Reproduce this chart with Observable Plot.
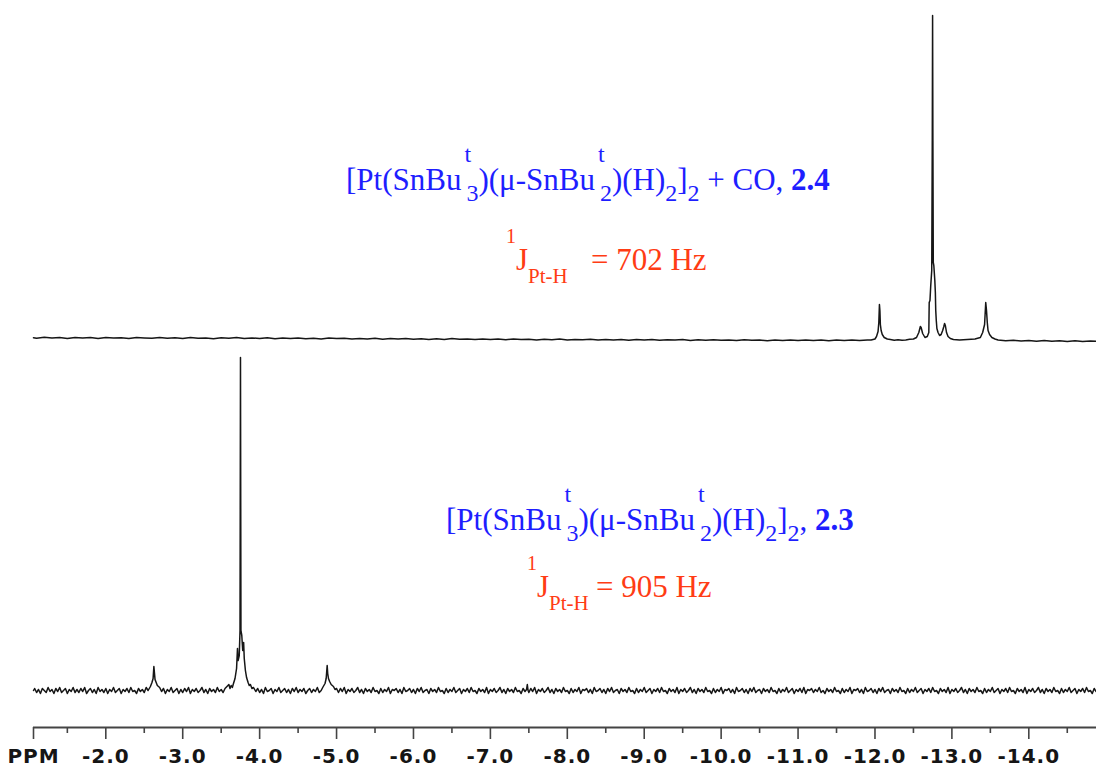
<!DOCTYPE html>
<html>
<head>
<meta charset="utf-8">
<script src="https://cdn.jsdelivr.net/npm/d3@7"></script>
<script src="https://cdn.jsdelivr.net/npm/@observablehq/plot@0.6"></script>
<style>
  html, body { margin: 0; padding: 0; background: #ffffff; }
  #chart svg { display: block; }
  #chart svg g[aria-label="x-axis tick label"] { letter-spacing: 1px; }
</style>
</head>
<body>
<div id="chart"></div>
<script>
// ---------------- DATA ----------------
const axisLabel = "PPM";
const xStart = -1.06;
const xEnd = -14.88;
const majorTicks = [-2, -3, -4, -5, -6, -7, -8, -9, -10, -11, -12, -13, -14];
const minorTicks = [-1.5, -2.5, -3.5, -4.5, -5.5, -6.5, -7.5, -8.5, -9.5, -10.5, -11.5, -12.5, -13.5, -14.5];

// upper trace: [Pt(SnBut3)(μ-SnBut2)(H)2]2 + CO, 2.4   [ppm, intensity]
const upperSpectrum = [
  [-1.06,2.8],[-1.1,2.2],[-1.2,3.2],[-1.3,2.4],[-1.4,3.0],[-1.5,2.0],[-1.6,3.1],[-1.7,2.5],[-1.8,2.9],[-1.9,2.1],
  [-2.0,3.0],[-2.1,2.4],[-2.2,2.8],[-2.3,1.9],[-2.4,3.1],[-2.5,2.6],[-2.6,2.2],[-2.7,3.0],[-2.8,2.3],[-2.9,2.7],
  [-3.0,2.0],[-3.1,2.9],[-3.2,2.3],[-3.3,2.6],[-3.4,1.8],[-3.5,2.7],[-3.6,2.2],[-3.7,2.9],[-3.8,1.9],[-3.9,2.5],
  [-4.0,2.1],[-4.1,2.8],[-4.2,1.7],[-4.3,2.4],[-4.4,2.0],[-4.5,2.6],[-4.6,1.8],[-4.7,2.3],[-4.8,1.6],[-4.9,2.5],
  [-5.0,1.9],[-5.1,2.2],[-5.2,1.4],[-5.3,2.1],[-5.4,1.6],[-5.5,2.3],[-5.6,1.2],[-5.7,1.9],[-5.8,1.5],[-5.9,2.0],
  [-6.0,1.3],[-6.1,1.8],[-6.2,1.1],[-6.3,1.7],[-6.4,1.0],[-6.5,1.9],[-6.6,1.2],[-6.7,1.5],[-6.8,0.9],[-6.9,1.6],
  [-7.0,1.1],[-7.1,1.4],[-7.2,0.7],[-7.3,1.5],[-7.4,0.9],[-7.5,1.3],[-7.6,0.6],[-7.7,1.2],[-7.8,0.8],[-7.9,1.4],
  [-8.0,0.5],[-8.1,1.1],[-8.2,0.7],[-8.3,1.2],[-8.4,0.4],[-8.5,1.0],[-8.6,0.6],[-8.7,1.1],[-8.8,0.3],[-8.9,0.9],
  [-9.0,0.5],[-9.1,1.0],[-9.2,0.2],[-9.3,0.8],[-9.4,0.4],[-9.5,0.9],[-9.6,0.1],[-9.7,0.7],[-9.8,0.3],[-9.9,0.8],
  [-10.0,0.2],[-10.1,0.6],[-10.2,-0.1],[-10.3,0.7],[-10.4,0.2],[-10.5,0.5],[-10.6,-0.2],[-10.7,0.6],[-10.8,0.1],[-10.9,0.5],
  [-11.0,-0.1],[-11.1,0.6],[-11.2,0.0],[-11.3,0.4],[-11.4,-0.2],[-11.5,0.5],[-11.6,0.1],[-11.7,0.4],[-11.8,-0.1],[-11.9,0.5],
  [-11.95,0.6],[-12.0,1.5],[-12.02,4],[-12.04,9],[-12.05,18],[-12.058,36],[-12.064,30],[-12.07,16],[-12.08,10],[-12.095,6],
  [-12.12,3],[-12.16,1.5],[-12.2,1],[-12.25,0.3],[-12.3,0.8],[-12.35,0.2],[-12.4,0.6],[-12.45,1.2],[-12.5,1.5],[-12.54,3],
  [-12.57,8],[-12.59,14],[-12.6,13],[-12.62,7],[-12.65,3],[-12.68,4],[-12.7,8],[-12.705,38],[-12.715,40],[-12.725,55],
  [-12.738,70],[-12.745,200],[-12.749,325],[-12.753,200],[-12.758,78],[-12.765,75],[-12.778,60],[-12.785,48],[-12.79,30],[-12.797,20],
  [-12.805,12],[-12.82,8],[-12.84,5],[-12.86,6],[-12.88,10],[-12.895,14],[-12.905,17],[-12.915,15],[-12.93,8],[-12.95,4],
  [-12.98,2],[-13.02,1],[-13.1,0.5],[-13.2,1],[-13.3,1.5],[-13.37,3],[-13.4,8],[-13.425,16],[-13.44,38],[-13.45,30],
  [-13.46,18],[-13.47,10],[-13.49,6],[-13.52,3],[-13.56,1.5],[-13.6,0.5],[-13.7,-0.3],[-13.8,0.2],[-13.9,-0.6],[-14.0,0.0],
  [-14.1,-0.7],[-14.2,-0.1],[-14.3,-0.8],[-14.4,-0.2],[-14.5,-0.9],[-14.6,-0.3],[-14.7,-1.0],[-14.8,-0.4],[-14.88,-0.8]
];

// lower trace: [Pt(SnBut3)(μ-SnBut2)(H)2]2, 2.3   [ppm, intensity]
const lowerSpectrum = [
  [-1.06,0],[-1.075,2],[-1.1,-2],[-1.125,1],[-1.15,-3],[-1.175,2],[-1.2,0],[-1.225,-2],[-1.25,3],[-1.275,-1],
  [-1.3,1],[-1.325,-3],[-1.35,2],[-1.375,-1],[-1.4,3],[-1.425,-2],[-1.45,0],[-1.475,2],[-1.5,-3],[-1.525,1],
  [-1.55,-1],[-1.575,3],[-1.6,-2],[-1.625,1],[-1.65,-2],[-1.675,2],[-1.7,-1],[-1.725,3],[-1.75,-3],[-1.775,0],
  [-1.8,2],[-1.825,-2],[-1.85,1],[-1.875,-3],[-1.9,3],[-1.925,-1],[-1.95,1],[-1.975,-2],[-2.0,2],[-2.025,-3],
  [-2.05,1],[-2.075,-1],[-2.1,3],[-2.125,-2],[-2.15,0],[-2.175,2],[-2.2,-3],[-2.225,1],[-2.25,-1],[-2.275,2],
  [-2.3,-2],[-2.325,3],[-2.35,-1],[-2.375,0],[-2.4,-3],[-2.425,2],[-2.45,-1],[-2.475,1],[-2.5,-2],[-2.525,3],
  [-2.55,0],[-2.58,4],[-2.6,8],[-2.615,12],[-2.625,24],[-2.632,18],[-2.64,11],[-2.655,8],[-2.67,5],[-2.7,3],
  [-2.725,-1],[-2.75,2],[-2.775,-3],[-2.8,1],[-2.825,-1],[-2.85,3],[-2.875,-2],[-2.9,0],[-2.925,2],[-2.95,-3],
  [-2.975,1],[-3.0,-2],[-3.025,2],[-3.05,-1],[-3.075,3],[-3.1,-3],[-3.125,1],[-3.15,-1],[-3.175,2],[-3.2,-2],
  [-3.225,0],[-3.25,3],[-3.275,-2],[-3.3,1],[-3.325,-3],[-3.35,2],[-3.375,-1],[-3.4,1],[-3.425,-2],[-3.45,3],
  [-3.475,-1],[-3.5,1],[-3.525,-2],[-3.55,2],[-3.575,4],[-3.6,6],[-3.615,2],[-3.63,5],[-3.645,3],[-3.66,7],
  [-3.68,12],[-3.7,22],[-3.712,42],[-3.72,30],[-3.735,35],[-3.745,60],[-3.751,333],[-3.757,60],[-3.768,55],[-3.78,40],
  [-3.792,48],[-3.8,32],[-3.815,20],[-3.83,13],[-3.85,8],[-3.865,5],[-3.88,6],[-3.9,2],[-3.92,3],[-3.95,-1],
  [-3.975,2],[-4.0,-2],[-4.025,1],[-4.05,-3],[-4.075,3],[-4.1,-1],[-4.125,0],[-4.15,2],[-4.175,-3],[-4.2,1],
  [-4.225,-1],[-4.25,3],[-4.275,-2],[-4.3,0],[-4.325,2],[-4.35,-2],[-4.375,1],[-4.4,-3],[-4.425,2],[-4.45,-1],
  [-4.475,3],[-4.5,-2],[-4.525,1],[-4.55,-1],[-4.575,2],[-4.6,-3],[-4.625,0],[-4.65,2],[-4.675,-2],[-4.7,1],
  [-4.725,-1],[-4.75,3],[-4.775,-2],[-4.8,0],[-4.82,3],[-4.85,7],[-4.865,12],[-4.878,25],[-4.885,17],[-4.895,12],
  [-4.91,9],[-4.93,6],[-4.96,4],[-4.98,1],[-5.0,2],
  [-5.025,-2],[-5.05,2],[-5.075,-1],[-5.1,3],[-5.125,-3],[-5.15,1],[-5.175,-1],[-5.2,2],[-5.225,-2],[-5.25,0],
  [-5.275,3],[-5.3,-2],[-5.325,1],[-5.35,-3],[-5.375,2],[-5.4,-1],[-5.425,1],[-5.45,-2],[-5.475,3],[-5.5,-1],
  [-5.525,0],[-5.55,-3],[-5.575,2],[-5.6,-2],[-5.625,1],[-5.65,-1],[-5.675,3],[-5.7,-3],[-5.725,1],[-5.75,0],
  [-5.775,2],[-5.8,-2],[-5.825,1],[-5.85,-3],[-5.875,3],[-5.9,-1],[-5.925,0],[-5.95,2],[-5.975,-2],[-6.0,1],
  [-6.025,-3],[-6.05,2],[-6.075,-1],[-6.1,3],[-6.125,-2],[-6.15,0],[-6.175,1],[-6.2,-3],[-6.225,2],[-6.25,-1],
  [-6.275,1],[-6.3,-2],[-6.325,3],[-6.35,-1],[-6.375,0],[-6.4,-3],[-6.425,2],[-6.45,-2],[-6.475,1],[-6.5,-1],
  [-6.525,3],[-6.55,-2],[-6.575,0],[-6.6,2],[-6.625,-3],[-6.65,1],[-6.675,-1],[-6.7,2],[-6.725,-2],[-6.75,3],
  [-6.775,-1],[-6.8,0],[-6.825,-3],[-6.85,2],[-6.875,-1],[-6.9,1],[-6.925,-2],[-6.95,3],[-6.975,-3],[-7.0,1],
  [-7.025,-1],[-7.05,2],[-7.075,-2],[-7.1,0],[-7.125,3],[-7.15,-2],[-7.175,1],[-7.2,-3],[-7.225,2],[-7.25,-1],
  [-7.275,1],[-7.3,-2],[-7.325,3],[-7.35,-1],[-7.375,0],[-7.4,-3],[-7.425,2],[-7.45,-1],[-7.47,1],[-7.48,6],
  [-7.49,0],[-7.5,-2],[-7.525,2],[-7.55,-1],[-7.575,3],[-7.6,-3],[-7.625,1],[-7.65,-1],[-7.675,2],[-7.7,-2],
  [-7.725,0],[-7.75,3],[-7.775,-2],[-7.8,1],[-7.825,-3],[-7.85,2],[-7.875,-1],[-7.9,1],[-7.925,-2],[-7.95,3],
  [-7.975,-1],[-8.0,0],[-8.025,-3],[-8.05,2],[-8.075,-2],[-8.1,1],[-8.125,-1],[-8.15,3],[-8.175,-3],[-8.2,1],
  [-8.225,0],[-8.25,2],[-8.275,-2],[-8.3,1],[-8.325,-3],[-8.35,3],[-8.375,-1],[-8.4,0],[-8.425,2],[-8.45,-2],
  [-8.475,1],[-8.5,-3],[-8.525,2],[-8.55,-1],[-8.575,3],[-8.6,-2],[-8.625,0],[-8.65,1],[-8.675,-3],[-8.7,2],
  [-8.725,-1],[-8.75,1],[-8.775,-2],[-8.8,3],[-8.825,-1],[-8.85,0],[-8.875,-3],[-8.9,2],[-8.925,-2],[-8.95,1],
  [-8.975,-1],[-9.0,3],[-9.025,-2],[-9.05,0],[-9.075,2],[-9.1,-3],[-9.125,1],[-9.15,-1],[-9.175,2],[-9.2,-2],
  [-9.225,3],[-9.25,-1],[-9.275,0],[-9.3,-3],[-9.325,2],[-9.35,-1],[-9.375,1],[-9.4,-2],[-9.425,3],[-9.45,-3],
  [-9.475,1],[-9.5,-1],[-9.525,2],[-9.55,-2],[-9.575,0],[-9.6,3],[-9.625,-2],[-9.65,1],[-9.675,-3],[-9.7,2],
  [-9.725,-1],[-9.75,1],[-9.775,-2],[-9.8,3],[-9.825,-1],[-9.85,0],[-9.875,-3],[-9.9,2],[-9.925,-2],[-9.95,1],
  [-9.975,-1],[-10.0,3],[-10.025,-3],[-10.05,1],[-10.075,0],[-10.1,2],[-10.125,-2],[-10.15,1],[-10.175,-3],[-10.2,3],
  [-10.225,-1],[-10.25,0],[-10.275,2],[-10.3,-2],[-10.325,1],[-10.35,-3],[-10.375,2],[-10.4,-1],[-10.425,3],[-10.45,-2],
  [-10.475,0],[-10.5,1],[-10.525,-3],[-10.55,2],[-10.575,-1],[-10.6,1],[-10.625,-2],[-10.65,3],[-10.675,-1],[-10.7,0],
  [-10.725,-3],[-10.75,2],[-10.775,-2],[-10.8,1],[-10.825,-1],[-10.85,3],[-10.875,-2],[-10.9,0],[-10.925,2],[-10.95,-3],
  [-10.975,1],[-11.0,-1],[-11.025,2],[-11.05,-2],[-11.075,3],[-11.1,-3],[-11.125,1],[-11.15,0],[-11.175,2],[-11.2,-2],
  [-11.225,1],[-11.25,-1],[-11.275,3],[-11.3,-2],[-11.325,0],[-11.35,-3],[-11.375,2],[-11.4,-1],[-11.425,1],[-11.45,-2],
  [-11.475,3],[-11.5,-1],[-11.525,0],[-11.55,-3],[-11.575,2],[-11.6,-2],[-11.625,1],[-11.65,-1],[-11.675,3],[-11.7,-3],
  [-11.725,1],[-11.75,0],[-11.775,2],[-11.8,-2],[-11.825,1],[-11.85,-3],[-11.875,3],[-11.9,-1],[-11.925,0],[-11.95,2],
  [-11.975,-2],[-12.0,1],[-12.025,-3],[-12.05,2],[-12.075,-1],[-12.1,3],[-12.125,-2],[-12.15,0],[-12.175,1],[-12.2,-3],
  [-12.225,2],[-12.25,-1],[-12.275,1],[-12.3,-2],[-12.325,3],[-12.35,-1],[-12.375,0],[-12.4,-3],[-12.425,2],[-12.45,-2],
  [-12.475,1],[-12.5,-1],[-12.525,3],[-12.55,-2],[-12.575,0],[-12.6,2],[-12.625,-3],[-12.65,1],[-12.675,-1],[-12.7,2],
  [-12.725,-2],[-12.75,3],[-12.775,-1],[-12.8,0],[-12.825,-3],[-12.85,2],[-12.875,-1],[-12.9,1],[-12.925,-2],[-12.95,3],
  [-12.975,-3],[-13.0,1],[-13.025,-1],[-13.05,2],[-13.075,-2],[-13.1,0],[-13.125,3],[-13.15,-2],[-13.175,1],[-13.2,-3],
  [-13.225,2],[-13.25,-1],[-13.275,1],[-13.3,-2],[-13.325,3],[-13.35,-1],[-13.375,0],[-13.4,-3],[-13.425,2],[-13.45,-2],
  [-13.475,1],[-13.5,-1],[-13.525,3],[-13.55,-2],[-13.575,0],[-13.6,2],[-13.625,-3],[-13.65,1],[-13.675,-1],[-13.7,2],
  [-13.725,-2],[-13.75,3],[-13.775,-1],[-13.8,0],[-13.825,-3],[-13.85,2],[-13.875,-1],[-13.9,1],[-13.925,-2],[-13.95,3],
  [-13.975,-3],[-14.0,1],[-14.025,-1],[-14.05,2],[-14.075,-2],[-14.1,0],[-14.125,3],[-14.15,-2],[-14.175,1],[-14.2,-3],
  [-14.225,2],[-14.25,-1],[-14.275,1],[-14.3,-2],[-14.325,3],[-14.35,-1],[-14.375,0],[-14.4,-3],[-14.425,2],[-14.45,-2],
  [-14.475,1],[-14.5,-1],[-14.525,3],[-14.55,-2],[-14.575,0],[-14.6,2],[-14.625,-3],[-14.65,1],[-14.675,-1],[-14.7,2],
  [-14.725,-2],[-14.75,3],[-14.775,-1],[-14.8,0],[-14.825,-3],[-14.85,2],[-14.875,-1],[-14.88,0]
];

// annotation texts
const upperFormula = ["[Pt(SnBu", "t", "3", ")(μ-SnBu", "t", "2", ")(H)", "2", "]", "2", " + CO, ", "2.4"];
const lowerFormula = ["[Pt(SnBu", "t", "3", ")(μ-SnBu", "t", "2", ")(H)", "2", "]", "2", ", ", "2.3"];
const formulaRoles = ["base", "sup", "subAfterSup", "base", "sup", "subAfterSup", "base", "sub", "base", "sub", "base", "bold"];
const upperCoupling = ["1", "J", "Pt-H", "= 702 Hz"];
const lowerCoupling = ["1", "J", "Pt-H", "= 905 Hz"];

// ---------------- LAYOUT / STYLE ----------------
const W = 1096, H = 768;
const yDomain = [-37, 690];
const upperOffset = 350;
const lowerOffset = 0;
const blue = "#1e1eff";
const red = "#ff3c14";
const serif = "'Liberation Serif', 'Times New Roman', serif";

const svg = Plot.plot({
  width: W,
  height: H,
  marginLeft: 33,
  marginRight: 0,
  marginTop: 0,
  marginBottom: 41,
  style: { background: "#ffffff", fontFamily: "'DejaVu Sans', Verdana, sans-serif" },
  x: { domain: [xStart, xEnd] },
  y: { domain: yDomain, axis: null },
  marks: [
    Plot.ruleY([yDomain[0]], { stroke: "#444", strokeWidth: 1.8 }),
    Plot.axisX([xStart, ...majorTicks], {
      tickSize: 12,
      tickPadding: 9,
      tickFormat: d => d === xStart ? axisLabel : d.toFixed(1),
      stroke: "#444",
      strokeWidth: 1.6,
      fill: "#151515",
      fontSize: 20,
      fontWeight: "bold",
      fontFamily: "'DejaVu Sans', Verdana, sans-serif",
      label: null
    }),
    Plot.axisX(minorTicks, {
      tickSize: 6,
      tickFormat: () => "",
      stroke: "#444",
      strokeWidth: 1.6,
      label: null
    }),
    Plot.line(upperSpectrum, { x: d => d[0], y: d => d[1] + upperOffset, stroke: "#161616", strokeWidth: 1.5 }),
    Plot.line(lowerSpectrum, { x: d => d[0], y: d => d[1] + lowerOffset, stroke: "#161616", strokeWidth: 1.5 })
  ]
});

// rich text annotations (real text with tspans)
const g = d3.select(svg).append("g").attr("class", "annotations");

function drawFormula(x, y, parts, roles, fill) {
  const text = g.append("text")
    .attr("x", x).attr("y", y)
    .attr("fill", fill)
    .attr("text-anchor", "start")
    .attr("font-family", serif)
    .attr("font-size", 31)
    .style("white-space", "pre");
  let shift = 0;
  parts.forEach((p, i) => {
    const r = roles[i];
    const target = r === "sup" ? -28 : (r === "sub" || r === "subAfterSup") ? 11 : 0;
    const ts = text.append("tspan").text(p).attr("dy", target - shift);
    shift = target;
    if (r === "sup" || r === "sub" || r === "subAfterSup") ts.attr("font-size", 24);
    if (r === "sup") ts.attr("dx", 3);
    if (r === "subAfterSup") ts.attr("dx", -4.7);
    if (r === "bold") ts.attr("font-weight", "bold");
  });
}

function drawCoupling(x, y, eqX, parts, fill) {
  const text = g.append("text")
    .attr("x", x).attr("y", y)
    .attr("fill", fill)
    .attr("text-anchor", "start")
    .attr("font-family", serif)
    .attr("font-size", 31)
    .style("white-space", "pre");
  text.append("tspan").text(parts[0]).attr("font-size", 20).attr("dy", -27);
  text.append("tspan").text(parts[1]).attr("dy", 27);
  text.append("tspan").text(parts[2]).attr("font-size", 21).attr("dy", 13);
  text.append("tspan").text(parts[3]).attr("x", eqX).attr("dy", -13);
}

drawFormula(346, 190, upperFormula, formulaRoles, blue);
drawFormula(446, 530, lowerFormula, formulaRoles, blue);
drawCoupling(506, 270, 591, upperCoupling, red);
drawCoupling(527, 597, 596, lowerCoupling, red);

document.getElementById("chart").appendChild(svg);
</script>
</body>
</html>
